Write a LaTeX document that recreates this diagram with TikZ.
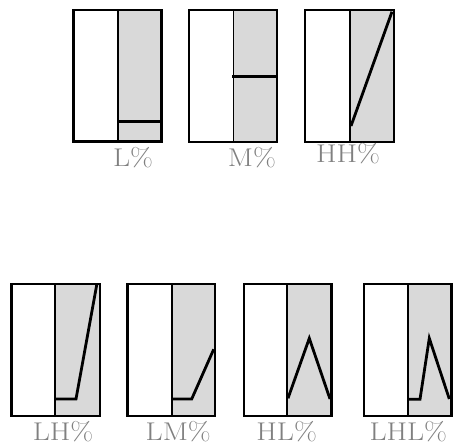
\documentclass[tikz,border=0pt]{standalone}
\usepackage{fontspec}
\usepackage{graphicx}
\definecolor{labgray}{RGB}{128,128,128}
\definecolor{panelgray}{RGB}{217,217,217}
\newcommand{\lbltext}[1]{\scalebox{1.04}[0.9]{\fontsize{28.5}{30}\selectfont #1}}
\tikzset{
  frame/.style={draw=black, line width=2.6pt},
  divider/.style={draw=black, line width=1.8pt},
  contour/.style={draw=black, line width=2.8pt, line join=miter},
  lbl/.style={text=labgray, inner sep=0pt, anchor=base},
}
% \panel{left}{divider}{right}{top}{bottom}
\newcommand{\panel}[5]{%
  \fill[panelgray] (#2,#4) rectangle (#3,#5);
  \draw[divider] (#2,#4) -- (#2,#5);
  \draw[frame] (#1,#4) rectangle (#3,#5);
}
\begin{document}
\begin{tikzpicture}[x=1pt,y=-1pt]
\useasboundingbox (0,0) rectangle (455,444);
% top row
\panel{73.3}{118}{161.7}{10}{141.7}
\draw[contour] (118,121.7) -- (161.7,121.7);
\panel{189}{233.5}{277}{10}{142}
\draw[contour] (232,76.7) -- (277,76.7);
\panel{305}{350}{394}{10}{142}
\draw[contour] (351,126) -- (392,11.7);
\node[lbl] (tL) at (133,166) {\lbltext{L\%}};
\node[lbl] (tM) at (252,166) {\lbltext{M\%}};
\node[lbl] (tHH) at (348,162) {\lbltext{HH\%}};
% bottom row
\panel{11.7}{55}{100}{284}{416}
\draw[contour] (55,399) -- (76,399) -- (96.7,285);
\panel{127.7}{171.7}{215}{284}{416}
\draw[contour] (171.7,399) -- (191.7,399) -- (213.7,349.3);
\panel{244}{287.3}{331.7}{284}{416}
\draw[contour] (288,398.3) -- (309.3,338.3) -- (330,399);
\panel{364}{408.3}{451.7}{284}{416}
\draw[contour] (408.3,399.3) -- (420,399.3) -- (429.3,338.3) -- (449.3,399);
\node[lbl] (bLH) at (63,440) {\lbltext{LH\%}};
\node[lbl] (bLM) at (178.3,440) {\lbltext{LM\%}};
\node[lbl] (bHL) at (286.7,440) {\lbltext{HL\%}};
\node[lbl] (bLHL) at (408.3,440) {\lbltext{LHL\%}};
\end{tikzpicture}
\end{document}
